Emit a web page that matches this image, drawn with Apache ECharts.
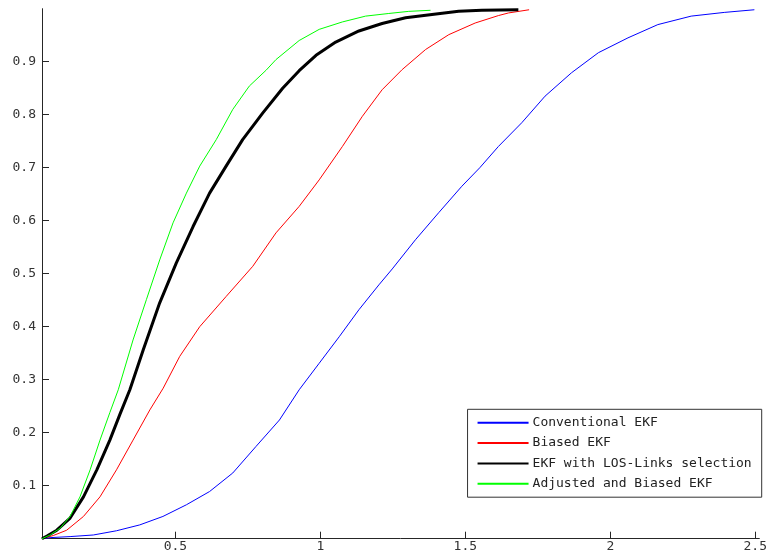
<!DOCTYPE html>
<html>
<head>
<meta charset="utf-8">
<script src="https://cdn.jsdelivr.net/npm/echarts@6/dist/echarts.min.js"></script>
<style>html,body{margin:0;padding:0;background:#fff}#c{width:770px;height:559px}</style>
</head>
<body>
<div id="c"></div>
<script>
// ---- data ----
const seriesNames = ['Conventional EKF', 'Biased EKF', 'EKF with LOS-Links selection', 'Adjusted and Biased EKF'];
const xTicks = [0.5, 1, 1.5, 2, 2.5];
const xTickLabels = ['0.5', '1', '1.5', '2', '2.5'];
const yTicks = [0.1, 0.2, 0.3, 0.4, 0.5, 0.6, 0.7, 0.8, 0.9];
const yTickLabels = ['0.1', '0.2', '0.3', '0.4', '0.5', '0.6', '0.7', '0.8', '0.9'];

const blueX = [0.04, 0.068, 0.137, 0.217, 0.297, 0.377, 0.457, 0.538, 0.618, 0.698, 0.778, 0.859, 0.927, 0.996, 1.065, 1.133, 1.202, 1.248, 1.328, 1.408, 1.488, 1.55, 1.614, 1.695, 1.775, 1.866, 1.959, 2.061, 2.164, 2.279, 2.393, 2.497];
const blueY = [0, 0.002, 0.004, 0.007, 0.015, 0.026, 0.042, 0.064, 0.089, 0.124, 0.174, 0.224, 0.281, 0.331, 0.381, 0.432, 0.479, 0.509, 0.564, 0.615, 0.665, 0.700, 0.740, 0.785, 0.835, 0.879, 0.917, 0.945, 0.970, 0.986, 0.993, 0.998];

const redX = [0.04, 0.079, 0.125, 0.183, 0.240, 0.297, 0.354, 0.412, 0.458, 0.515, 0.584, 0.675, 0.767, 0.847, 0.927, 0.996, 1.076, 1.145, 1.213, 1.282, 1.363, 1.443, 1.534, 1.614, 1.649, 1.72];
const redY = [0, 0.006, 0.016, 0.042, 0.079, 0.130, 0.186, 0.243, 0.284, 0.344, 0.400, 0.457, 0.514, 0.577, 0.627, 0.677, 0.740, 0.797, 0.847, 0.885, 0.923, 0.951, 0.973, 0.987, 0.992, 0.998];

const blackX = [0.04, 0.057, 0.091, 0.137, 0.183, 0.229, 0.274, 0.309, 0.343, 0.389, 0.446, 0.503, 0.561, 0.618, 0.675, 0.732, 0.801, 0.870, 0.927, 0.985, 1.053, 1.133, 1.213, 1.294, 1.385, 1.477, 1.557, 1.683];
const blackY = [0, 0.005, 0.016, 0.039, 0.079, 0.130, 0.186, 0.235, 0.281, 0.356, 0.445, 0.520, 0.589, 0.652, 0.703, 0.753, 0.803, 0.850, 0.883, 0.912, 0.937, 0.958, 0.972, 0.983, 0.989, 0.995, 0.997, 0.998];

const greenX = [0.04, 0.068, 0.103, 0.137, 0.171, 0.206, 0.240, 0.274, 0.303, 0.354, 0.400, 0.446, 0.492, 0.538, 0.584, 0.641, 0.698, 0.755, 0.813, 0.847, 0.927, 0.996, 1.076, 1.156, 1.236, 1.305, 1.38];
const greenY = [0, 0.007, 0.020, 0.042, 0.079, 0.130, 0.186, 0.238, 0.281, 0.375, 0.451, 0.526, 0.596, 0.652, 0.703, 0.753, 0.810, 0.854, 0.884, 0.904, 0.940, 0.961, 0.975, 0.986, 0.991, 0.995, 0.997];

const zip = (xs, ys) => xs.map((x, i) => [x, ys[i]]);
const FONT = 'DejaVu Sans Mono';
const AX = '#262626';

const chart = echarts.init(document.getElementById('c'), null, { renderer: 'canvas' });
const mk = (name, xs, ys, color, w, z) => ({
  name, type: 'line', data: zip(xs, ys), showSymbol: false, symbol: 'none',
  smooth: false,
  lineStyle: { color, width: w, join: 'round' }, itemStyle: { color }, z, animation: false
});

chart.setOption({
  animation: false,
  backgroundColor: '#fff',
  grid: { left: 42, right: 8.3, top: 8.7, bottom: 20.3 },
  xAxis: {
    type: 'value', min: 0.04, max: 2.514,
    splitLine: { show: false },
    axisLine: { show: true, onZero: false, lineStyle: { color: AX, width: 1 } },
    axisTick: { show: true, inside: true, length: 7, customValues: xTicks, lineStyle: { color: AX } },
    axisLabel: {
      customValues: xTicks, margin: 1, color: '#333', fontFamily: FONT, fontSize: 13,
      formatter: v => { const i = xTicks.findIndex(t => Math.abs(t - v) < 1e-9); return i >= 0 ? xTickLabels[i] : ''; }
    }
  },
  yAxis: {
    type: 'value', min: 0, max: 1,
    splitLine: { show: false },
    axisLine: { show: true, onZero: false, lineStyle: { color: AX, width: 1 } },
    axisTick: { show: true, inside: true, length: 7, customValues: yTicks, lineStyle: { color: AX } },
    axisLabel: {
      customValues: yTicks, margin: 6, color: '#333', fontFamily: FONT, fontSize: 13,
      formatter: v => { const i = yTicks.findIndex(t => Math.abs(t - v) < 1e-9); return i >= 0 ? yTickLabels[i] : ''; }
    }
  },
  legend: {
    orient: 'vertical', right: 8.3, top: 409.3,
    data: seriesNames,
    backgroundColor: '#fff', borderColor: '#333', borderWidth: 1,
    padding: [7, 10, 7, 9],
    itemWidth: 51, itemHeight: 14, itemGap: 7.3,
    itemStyle: { color: 'rgba(0,0,0,0)', opacity: 0, borderWidth: 0 },
    textStyle: { color: '#222', fontFamily: FONT, fontSize: 13, padding: [0, 0, 0, -1] },
    selectedMode: false
  },
  series: [
    mk(seriesNames[0], blueX, blueY, '#0000ff', 1, 2),
    mk(seriesNames[1], redX, redY, '#ff0000', 1, 3),
    mk(seriesNames[2], blackX, blackY, '#000000', 3, 4),
    mk(seriesNames[3], greenX, greenY, '#00ff00', 1, 5)
  ]
});
</script>
</body>
</html>
